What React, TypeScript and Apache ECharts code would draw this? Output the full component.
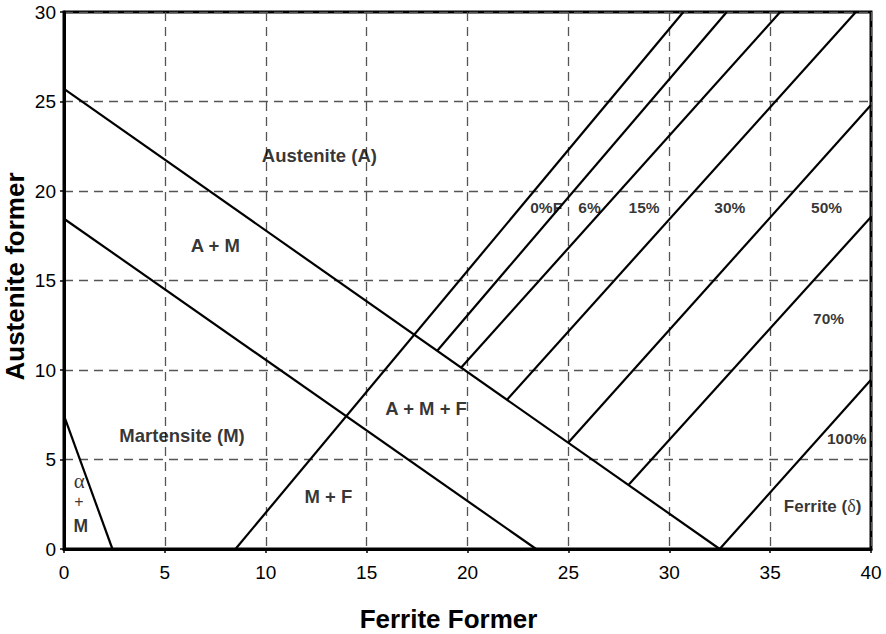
import React, { useEffect, useRef } from "react";
import * as echarts from "echarts";

// Phase boundary lines (ferrite former, austenite former)
const austeniteBoundary = [[0, 25.7], [32.5, 0]];
const martensiteBoundary = [[0, 18.45], [23.4, 0]];
const alphaBoundary = [[0, 7.45], [2.4, 0]];
// Iso-ferrite lines
const ferrite0 = [[8.5, 0], [30.7, 30]];
const ferrite6 = [[18.5, 11.08], [32.85, 30]];
const ferrite15 = [[19.7, 10.15], [35.5, 30]];
const ferrite30 = [[21.95, 8.33], [39.25, 30]];
const ferrite50 = [[25.0, 5.95], [40, 24.8]];
const ferrite70 = [[28.0, 3.6], [40, 18.55]];
const ferrite100 = [[32.5, 0], [40, 9.45]];

const lines = [
  austeniteBoundary, martensiteBoundary, alphaBoundary,
  ferrite0, ferrite6, ferrite15, ferrite30, ferrite50, ferrite70, ferrite100,
];

// Region labels: [text, x, y]
const regionLabels: [string, number, number][] = [
  ["Austenite (A)", 12.66, 22.0],
  ["A + M", 7.5, 16.93],
  ["Martensite (M)", 5.85, 6.35],
  ["M + F", 13.1, 2.95],
  ["A + M + F", 17.95, 7.85],
];
const percentLabels: [string, number, number][] = [
  ["0%F", 23.9, 19.1],
  ["6%", 26.05, 19.1],
  ["15%", 28.75, 19.1],
  ["30%", 33.0, 19.1],
  ["50%", 37.8, 19.1],
  ["70%", 37.9, 12.85],
  ["100%", 38.8, 6.2],
];
const ferriteLabel: [string, number, number] = ["Ferrite ({d|δ})", 37.6, 2.4];
const alphaLabels: [string, number, number][] = [
  ["α", 0.76, 3.8],
  ["+", 0.74, 2.65],
  ["M", 0.83, 1.3],
];

const xTicks = { min: 0, max: 40, interval: 5 };
const yTicks = { min: 0, max: 30, interval: 5 };

const FONT = "'Liberation Sans', Arial, sans-serif";
const SERIF = "'Liberation Serif', 'Times New Roman', serif";

export default function App() {
  const ref = useRef<HTMLDivElement>(null);
  useEffect(() => {
    if (!ref.current) return;
    const chart = echarts.init(ref.current, null, { renderer: "svg" });
    const lineSeries = lines.map((d) => ({
      type: "line",
      data: d,
      symbol: "none",
      silent: true,
      itemStyle: { color: "#000" },
      lineStyle: { color: "#000", width: 2.2 },
      z: 3,
    }));
    const base = { color: "#000", textBorderWidth: 0, textBorderColor: "transparent", fontFamily: FONT };
    const labelItem = (t: [string, number, number], style: any) => ({
      name: t[0],
      value: [t[1], t[2]],
      label: { ...base, ...style },
    });
    const regionStyle = { fontSize: 18.5, fontWeight: "bold" };
    const pctStyle = { fontSize: 15.5, fontWeight: "bold" };
    const labelData = [
      ...regionLabels.map((t) => labelItem(t, regionStyle)),
      ...percentLabels.map((t) => labelItem(t, pctStyle)),
      labelItem(ferriteLabel, {
        fontSize: 17,
        fontWeight: "bold",
        rich: { d: { fontFamily: SERIF, fontSize: 18, fontWeight: "normal", color: "#000" } },
      }),
      labelItem(alphaLabels[0], { fontSize: 21, fontFamily: SERIF }),
      labelItem(alphaLabels[1], { fontSize: 16 }),
      labelItem(alphaLabels[2], { fontSize: 17.5, fontWeight: "bold" }),
    ];
    chart.setOption({
      animation: false,
      backgroundColor: "#fff",
      grid: {
        left: 64, right: 15, top: 12, bottom: 85,
        show: true, borderColor: "#000", borderWidth: 3, containLabel: false,
        outerBoundsMode: "none",
      },
      xAxis: {
        type: "value",
        ...xTicks,
        name: "Ferrite Former",
        nameLocation: "middle",
        nameGap: 57,
        nameMoveOverlap: false,
        nameTextStyle: {
          fontSize: 26, fontWeight: "bold", color: "#000", fontFamily: FONT,
          padding: [0, 38, 0, 0],
        },
        axisLine: { show: true, lineStyle: { color: "#000", width: 3 } },
        axisTick: { show: true, length: 4, lineStyle: { color: "#000", width: 1.5 } },
        axisLabel: { fontSize: 19, color: "#000", fontFamily: FONT, margin: 14 },
        splitLine: { show: true, lineStyle: { color: "#555", width: 1.3, type: [9, 6] } },
      },
      yAxis: {
        type: "value",
        ...yTicks,
        name: "Austenite former",
        nameLocation: "middle",
        nameGap: 36,
        nameMoveOverlap: false,
        nameTextStyle: {
          fontSize: 26, fontWeight: "bold", color: "#000", fontFamily: FONT,
          padding: [0, 0, 0, 8],
        },
        axisLine: { show: true, lineStyle: { color: "#000", width: 3 } },
        axisTick: { show: true, length: 4, lineStyle: { color: "#000", width: 1.5 } },
        axisLabel: { fontSize: 19, color: "#000", fontFamily: FONT, margin: 8 },
        splitLine: { show: true, lineStyle: { color: "#555", width: 1.3, type: [9, 6] } },
      },
      series: [
        ...lineSeries,
        {
          type: "scatter",
          symbolSize: 0,
          silent: true,
          z: 5,
          itemStyle: { color: "#000" },
          data: labelData,
          label: {
            show: true,
            position: [0, 0],
            formatter: "{b}",
            align: "center",
            verticalAlign: "middle",
            color: "#000",
            textBorderWidth: 0,
          },
        },
      ],
    });
    return () => chart.dispose();
  }, []);
  return (
    <div
      ref={ref}
      style={{ position: "fixed", left: 0, top: 0, width: 886, height: 634, background: "#fff" }}
    />
  );
}
